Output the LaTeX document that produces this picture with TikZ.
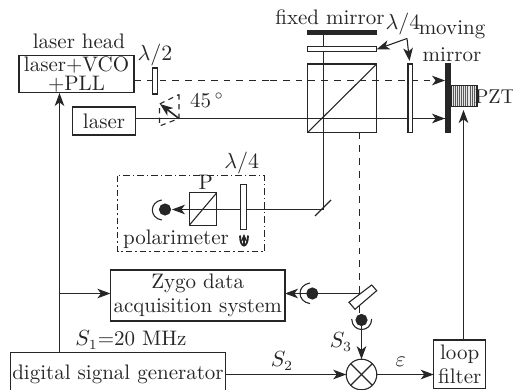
\documentclass[tikz,border=0pt]{standalone}
\usetikzlibrary{arrows.meta,calc}
\definecolor{ink}{gray}{0.15}
\tikzset{
  every node/.style={text=ink,inner sep=0pt,outer sep=0pt,font=\fontsize{10.5}{12}\selectfont},
  tip/.style={-{Stealth[length=6.5pt,width=4.8pt,inset=1.8pt]}},
  boxn/.style={draw,rectangle,align=center},
  plate/.style={draw,fill=white,rectangle},
  blackbar/.style={draw,fill=ink,rectangle},
  dot/.style={circle,fill=ink,draw=ink,minimum size=5.5pt},
  dashbeam/.style={dash pattern=on 3.4pt off 3pt,line width=0.55pt},
  lbl/.style={align=center}
}
\begin{document}
\begin{tikzpicture}[x=0.5pt,y=-0.5pt,line width=0.55pt,color=ink]
\clip (0,0) rectangle (513,390);
\useasboundingbox (0,0) rectangle (513,390);

% named geometry
\coordinate (dashL) at (134,80.5);
\coordinate (solidR) at (445,118.5);
\coordinate (dashR) at (445,80.5);
\coordinate (solidL) at (136,118.5);
\coordinate (bsTop) at (323.5,35);
\coordinate (foldM) at (323.5,209.5);
\coordinate (dashDownTop) at (359.5,132.3);
\coordinate (pick) at (359.5,293.5);

% boxes
\node[boxn,minimum width=57.5pt,minimum height=18.6pt,font=\fontsize{10.5}{10}\selectfont] (head) at (76.5,74.3) {laser+VCO\\[-0.3pt]+PLL};
\node[boxn,minimum width=31.8pt,minimum height=14pt] (laser) at (104,121) {laser};
\node[boxn,minimum width=87.3pt,minimum height=25.5pt] (zygo) at (197.7,295.5) {Zygo data\\acquisition system};
\node[boxn,minimum width=107.3pt,minimum height=21.7pt] (dsg) at (118,374.4) {digital signal generator};
\node[boxn,minimum width=26pt,minimum height=24.2pt] (filter) at (459.7,364.2) {loop\\filter};

% optics: cube
\node[draw,minimum width=34.5pt,minimum height=34.2pt] (cube) at (342.2,98.2) {};
\draw (cube.south west) -- (cube.north east);
\node[draw,minimum width=13.7pt,minimum height=16.2pt] (pol) at (203,209) {};
\draw (pol.south west) -- (pol.north east);

% beams
\draw[dashbeam] (dashL) -- (270,80.5);
\draw[dashbeam,tip] (270,80.5) -- (dashR);
\draw (laser.east |- solidL) -- (solidR);
\draw[tip] (400,118.5) -- (solidR);
\draw (bsTop) -- (foldM);
\draw[tip] (foldM) -- (172,209.5);
\draw[dashbeam] (dashDownTop) -- (pick);
\draw[dashbeam] (pick) -- (359.5,314);

% plates and mirrors
\node[plate,minimum width=2.2pt,minimum height=13pt] (halfw) at (154.9,81) {};
\node[blackbar,minimum width=34.5pt,minimum height=2.4pt] (fixm) at (342.2,32.5) {};
\node[plate,minimum width=34.5pt,minimum height=2.4pt] (qw1) at (342.2,49.3) {};
\node[plate,minimum width=2.2pt,minimum height=34.2pt] (qw2) at (410.2,98.2) {};
\node[blackbar,minimum width=2.6pt,minimum height=34.2pt] (movm) at (448.3,98.2) {};
\node[draw,minimum width=13pt,minimum height=10.5pt,fill=gray!20] (pzt) at (464,95.8) {};
\foreach \i in {0,...,10} \draw[line width=0.25pt,gray!70!black] (453+\i*2.1,85.8) -- (453+\i*2.1,106);
\node[plate,minimum width=3pt,minimum height=22.6pt] (qw3) at (243.7,206.7) {};
\draw[line width=0.6pt] (315,216) -- (331,200);

% rotated half wave plate
\draw[dash pattern=on 2.6pt off 2.2pt] (179,94.5) -- (179,118.5) -- (159.5,126) -- (159.5,104) -- cycle;
\draw[tip,line width=0.8pt] (179,118.5) -- (160,104);

% polarimeter
\draw[dash pattern=on 3.2pt off 1.5pt on 0.8pt off 1.5pt] (117.5,175.5) rectangle (264.5,251.5);
\node[dot] (det1) at (165,209.5) {};
\draw (161.7,200) .. controls (149.2,202) and (149.2,218) .. (161.7,220);
\draw[line width=0.9pt] (240,235.5) .. controls (240,249) and (248,249) .. (248,235.5);
\draw[line width=0.9pt,-{Stealth[length=4pt,width=3.6pt]}] (244,246) -- (244,234);

% pick-off
\draw[fill=white] (349,302.3) -- (371.7,285) -- (376.7,290.7) -- (355,309.3) -- cycle;
\node[dot] (det2) at (312.3,293.5) {};
\draw (310,283) .. controls (296.7,285) and (296.7,301.6) .. (310,303.6);
\draw (pick) -- (det2);
\draw[tip] (det2) -- (zygo.east |- det2);
\node[dot] (det3) at (361.5,320) {};
\draw (351.7,319) .. controls (352,333) and (371.4,333) .. (371.7,319);

% mixer
\node[draw,circle,minimum size=15.3pt] (mix) at (361.5,374.5) {};
\draw (mix.north west) -- (mix.south east);
\draw (mix.north east) -- (mix.south west);
\draw[tip] (det3) -- (mix.north);

% electronics
\draw[tip] (dsg.east |- mix.west) -- (mix.west);
\draw[tip] (mix.east) -- (filter.west |- mix.east);
\draw[tip] (filter.north -| 463.5,0) -- (463.5,110);
\coordinate (feed) at (59.5,352.7);
\draw[tip] (feed) -- (59.5,93);
\draw[tip] (59.5,293.5) -- (zygo.west |- 0,293.5);

% lambda/4 pointers
\coordinate (lam) at (407,38.5);
\draw[tip] (lam) -- (qw1.east);
\draw[tip] (lam) -- (409.5,61);

% labels
\node[lbl] (t1) at (79,41) {laser head};
\node[lbl] (t2) at (155,55) {$\lambda/2$};
\node[lbl] (t3) at (207,100) {45\,$^\circ$};
\node[lbl] (t4) at (330,17) {fixed mirror};
\node[lbl] (t5) at (403,24) {$\lambda/4$};
\node[lbl] (t6) at (452,30) {moving};
\node[lbl] (t7) at (452,55) {mirror};
\node[lbl,font=\fontsize{10}{12}\selectfont] (t8) at (495,97) {PZT};
\node[lbl] (t9) at (241.7,163) {$\lambda/4$};
\node[lbl] (t10) at (205.7,182) {P};
\node[lbl] (t11) at (176,239) {polarimeter};
\node[lbl] (t12) at (131,340) {$S_1$=20 MHz};
\node[lbl] (t13) at (282,361) {$S_2$};
\node[lbl] (t14) at (341,342) {$S_3$};
\node[lbl] (t15) at (400.7,362) {$\varepsilon$};
\end{tikzpicture}
\end{document}
